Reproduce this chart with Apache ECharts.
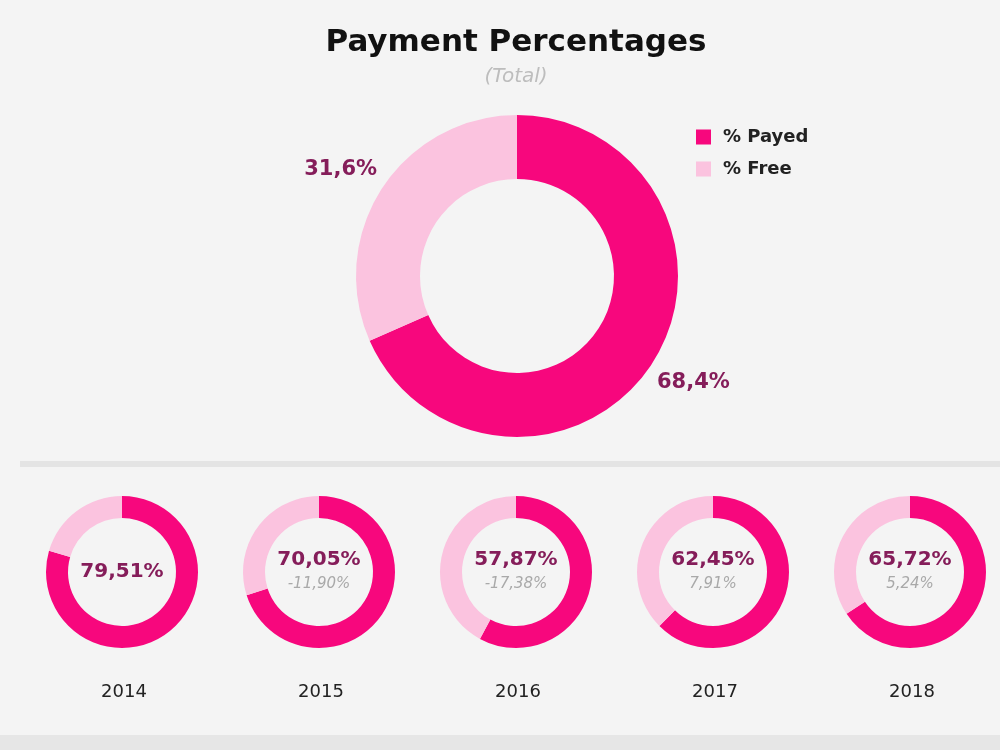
<!DOCTYPE html>
<html>
<head>
<meta charset="utf-8">
<script src="https://cdn.jsdelivr.net/npm/echarts@6/dist/echarts.min.js"></script>
<style>
  html, body { margin: 0; padding: 0; background: #f4f4f4; }
  #main { width: 1000px; height: 750px; }
</style>
</head>
<body>
<div id="main"></div>
<script>
var categories = ['% Payed', '% Free'];
var totalValues = [68.4, 31.6];
var years = ['2014', '2015', '2016', '2017', '2018'];
var payedPct = [79.51, 70.05, 57.87, 62.45, 65.72];
var changePct = [null, -11.90, -17.38, 7.91, 5.24];

var colors = ['#f7077d', '#fbc3df'];
var labelColor = '#851d5a';
var font = "'DejaVu Sans', 'Liberation Sans', Arial, sans-serif";

function fmt(v, d) {
  return v.toFixed(d).replace('.', ',') + '%';
}

var myChart = echarts.init(document.getElementById('main'));

var titles = [{
  text: 'Payment Percentages',
  subtext: '(Total)',
  left: 516,
  top: 27,
  padding: 0,
  textAlign: 'center',
  itemGap: 9,
  textStyle: { fontFamily: font, fontSize: 31, fontWeight: 'bold', color: '#111' },
  subtextStyle: { fontFamily: font, fontSize: 20, fontStyle: 'italic', color: '#bdbdbd' }
}];

var series = [{
  name: 'Total',
  type: 'pie',
  center: [517, 276],
  radius: [97, 161],
  startAngle: 90,
  clockwise: true,
  silent: true,
  label: { show: false },
  labelLine: { show: false },
  data: categories.map(function (c, i) {
    return { name: c, value: totalValues[i], itemStyle: { color: colors[i] } };
  })
}, {
  // ring only used to place the outside labels
  type: 'pie',
  center: [517, 276],
  radius: [161, 245],
  startAngle: 92,
  silent: true,
  legendHoverLink: false,
  itemStyle: { color: 'rgba(0,0,0,0)' },
  label: {
    show: true,
    position: 'inside',
    fontFamily: font,
    fontSize: 21,
    fontWeight: 'bold',
    color: labelColor,
    formatter: function (p) { return fmt(p.value, 1); }
  },
  labelLine: { show: false },
  data: categories.map(function (c, i) {
    return { name: c + ' ', value: totalValues[i] };
  })
}];

var startX = 122, gapX = 197;
for (var i = 0; i < years.length; i++) {
  var cx = startX + gapX * i;
  var txt = changePct[i] === null ?
    '{a|' + fmt(payedPct[i], 2) + '}' :
    '{a|' + fmt(payedPct[i], 2) + '}\n{b|' + fmt(changePct[i], 2) + '}';
  series.push({
    name: years[i],
    type: 'pie',
    center: [cx, 572],
    radius: [54, 76],
    startAngle: 90,
    silent: true,
    labelLine: { show: false },
    data: [{
      name: categories[0],
      value: payedPct[i],
      itemStyle: { color: colors[0] },
      label: {
        show: true,
        position: 'center',
        formatter: txt,
        rich: {
          a: { fontFamily: font, fontSize: 20, fontWeight: 'bold', color: labelColor, lineHeight: 24 },
          b: { fontFamily: font, fontSize: 15, fontStyle: 'italic', color: '#a9a9a9', lineHeight: 24 }
        }
      }
    }, {
      name: categories[1],
      value: +(100 - payedPct[i]).toFixed(2),
      itemStyle: { color: colors[1] },
      label: { show: false }
    }]
  });
  titles.push({
    text: years[i],
    left: cx + 2,
    top: 683,
    padding: 0,
    textAlign: 'center',
    textStyle: { fontFamily: font, fontSize: 18, fontWeight: 'normal', color: '#222' }
  });
}

var option = {
  backgroundColor: '#f4f4f4',
  animation: false,
  title: titles,
  legend: {
    data: categories,
    orient: 'vertical',
    left: 696,
    top: 128,
    padding: 0,
    itemWidth: 15,
    itemHeight: 15,
    itemGap: 14,
    icon: 'rect',
    selectedMode: false,
    textStyle: { fontFamily: font, fontSize: 18, fontWeight: 'bold', color: '#222', padding: [0, 0, 0, 7] }
  },
  graphic: [
    { type: 'rect', left: 20, top: 461, shape: { width: 980, height: 6 }, style: { fill: '#e4e4e4' }, silent: true },
    { type: 'rect', left: 0, top: 735, shape: { width: 1000, height: 15 }, style: { fill: '#e6e6e6' }, silent: true }
  ],
  series: series
};

myChart.setOption(option);
</script>
</body>
</html>
